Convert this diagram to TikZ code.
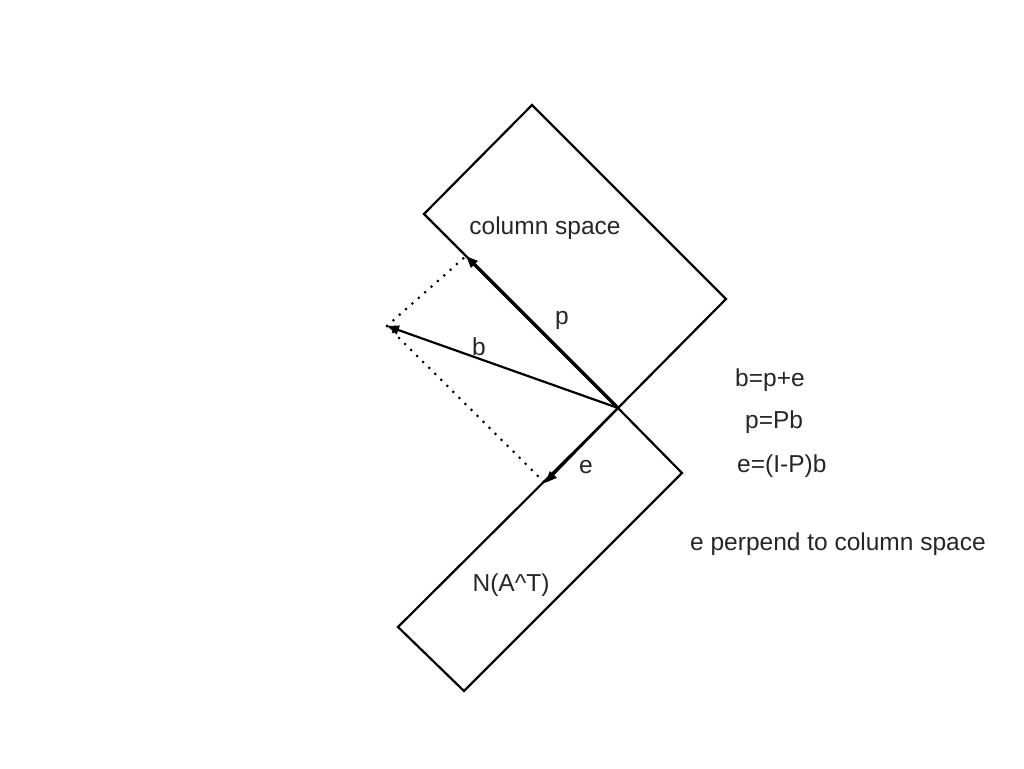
\documentclass[tikz,border=0pt]{standalone}
\usepackage{fontspec}
\setmainfont{Liberation Sans}
\usetikzlibrary{arrows.meta}
\begin{document}
\begin{tikzpicture}[x=1pt,y=-1pt,
  edge/.style={line width=2.2pt,line join=miter},
  vec/.style={line width=2.2pt,-{Triangle[length=12pt,width=9pt]}},
  dotline/.style={line width=3pt,line cap=round,dash pattern=on 0pt off 8.5pt},
  lbl/.style={font=\fontsize{24.5}{28}\selectfont,inner sep=0pt,text=black!85}]
\useasboundingbox (0,0) rectangle (1024,768);
\coordinate (O) at (618,408);
\coordinate (UR) at (726,299);
\coordinate (UT) at (532,105);
\coordinate (UL) at (424,214);
\coordinate (LR) at (682,473);
\coordinate (LB) at (464,691);
\coordinate (LL) at (398,627);
\coordinate (P) at (466,256);
\coordinate (E) at (545,483);
\coordinate (B) at (387,326);
\draw[edge] (O) -- (UR) -- (UT) -- (UL) -- cycle;
\draw[edge] (O) -- (LR) -- (LB) -- (LL) -- cycle;
\draw[vec,line width=3.2pt] (O) -- (P);
\draw[vec] (O) -- (E);
\draw[vec] (O) -- (B);
\draw[dotline] (B) -- (P);
\draw[dotline] (B) -- (E);
\node[lbl] (cs) at (545,228) {column space};
\node[lbl] (pl) at (562,320) {p};
\node[lbl] (bl) at (479,347) {b};
\node[lbl] (el) at (586,467) {e};
\node[lbl] (na) at (511,585) {N(A\^{}T)};
\node[lbl,anchor=west] (eq1) at (735,380) {b=p+e};
\node[lbl,anchor=west] (eq2) at (745,422) {p=Pb};
\node[lbl,anchor=west] (eq3) at (737,466) {e=(I-P)b};
\node[lbl,anchor=west] (eq4) at (690,544) {e perpend to column space};
\end{tikzpicture}
\end{document}
